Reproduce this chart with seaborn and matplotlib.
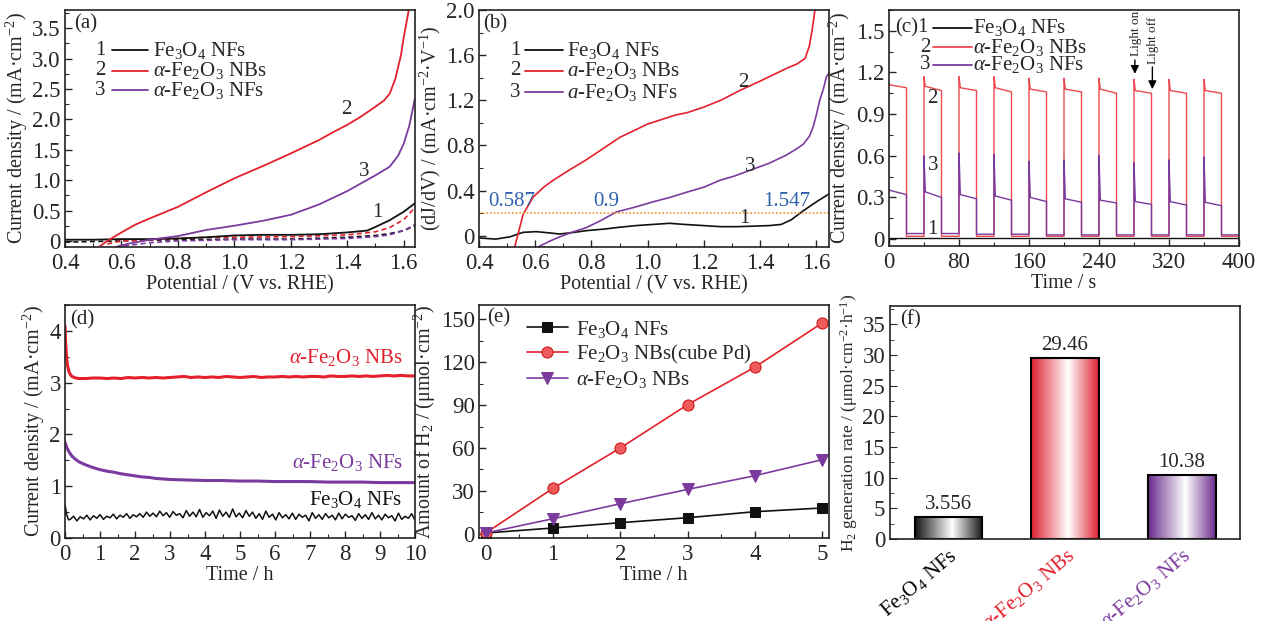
import numpy as np
import pandas as pd
import matplotlib
matplotlib.use("Agg")
import matplotlib.pyplot as plt
import seaborn as sns
from matplotlib.ticker import MultipleLocator, FuncFormatter
from matplotlib.colors import LinearSegmentedColormap
from matplotlib.lines import Line2D

# ---------------- DATA ----------------
# (a) LSV curves (light: solid, dark: dashed)
a_fe3o4_x = [0.40, 0.50, 0.60, 0.70, 0.80, 0.90, 1.00, 1.10, 1.20, 1.30, 1.40, 1.47, 1.50, 1.55, 1.60, 1.64]
a_fe3o4_y = [0.02, 0.02, 0.03, 0.03, 0.04, 0.06, 0.09, 0.10, 0.10, 0.11, 0.14, 0.17, 0.23, 0.34, 0.48, 0.62]
a_nbs_x = [0.52, 0.55, 0.60, 0.65, 0.70, 0.80, 0.90, 1.00, 1.10, 1.20, 1.30, 1.35, 1.40, 1.45, 1.50, 1.53, 1.55, 1.57, 1.59, 1.60, 1.61, 1.62]
a_nbs_y = [-0.10, 0.00, 0.14, 0.27, 0.37, 0.56, 0.80, 1.03, 1.23, 1.44, 1.66, 1.79, 1.91, 2.05, 2.21, 2.31, 2.42, 2.66, 3.05, 3.35, 3.60, 3.85]
a_nfs_x = [0.58, 0.62, 0.70, 0.80, 0.90, 1.00, 1.10, 1.20, 1.30, 1.40, 1.45, 1.50, 1.55, 1.58, 1.60, 1.62, 1.64]
a_nfs_y = [-0.10, -0.05, 0.02, 0.08, 0.18, 0.25, 0.33, 0.43, 0.60, 0.82, 0.95, 1.08, 1.22, 1.40, 1.60, 1.90, 2.35]
a_fe3o4_dark_x = [0.40, 0.60, 0.80, 1.00, 1.20, 1.40, 1.50, 1.55, 1.60, 1.64]
a_fe3o4_dark_y = [-0.02, 0.00, 0.02, 0.03, 0.03, 0.06, 0.09, 0.12, 0.17, 0.25]
a_nbs_dark_x = [0.55, 0.60, 0.70, 0.80, 0.90, 1.00, 1.20, 1.40, 1.50, 1.55, 1.60, 1.64]
a_nbs_dark_y = [-0.05, 0.00, 0.02, 0.04, 0.06, 0.06, 0.07, 0.10, 0.15, 0.22, 0.35, 0.55]
a_nfs_dark_x = [0.58, 0.70, 0.80, 1.00, 1.20, 1.40, 1.50, 1.55, 1.60, 1.64]
a_nfs_dark_y = [-0.10, -0.03, 0.00, 0.02, 0.02, 0.04, 0.07, 0.10, 0.17, 0.27]

# (b) dJ/dV curves
b_nbs_x = [0.527, 0.557, 0.592, 0.63, 0.663, 0.72, 0.78, 0.84, 0.90, 0.95, 1.00, 1.05, 1.10, 1.14, 1.20, 1.26, 1.33, 1.40, 1.45, 1.50, 1.53, 1.56, 1.575, 1.585, 1.595]
b_nbs_y = [-0.10, 0.19, 0.34, 0.43, 0.49, 0.58, 0.67, 0.77, 0.87, 0.93, 0.99, 1.03, 1.07, 1.09, 1.14, 1.20, 1.29, 1.37, 1.43, 1.49, 1.52, 1.57, 1.68, 1.82, 2.00]
b_nfs_x = [0.61, 0.65, 0.687, 0.73, 0.78, 0.83, 0.888, 0.95, 1.019, 1.08, 1.138, 1.20, 1.256, 1.31, 1.375, 1.43, 1.49, 1.53, 1.553, 1.575, 1.588, 1.60, 1.612, 1.625, 1.636, 1.645]
b_nfs_y = [-0.10, -0.05, -0.01, 0.03, 0.07, 0.13, 0.21, 0.25, 0.30, 0.34, 0.385, 0.43, 0.49, 0.53, 0.59, 0.64, 0.71, 0.77, 0.81, 0.88, 0.96, 1.07, 1.20, 1.30, 1.41, 1.44]
b_fe3o4_x = [0.40, 0.46, 0.51, 0.557, 0.604, 0.65, 0.687, 0.74, 0.782, 0.85, 0.90, 0.96, 1.019, 1.078, 1.13, 1.197, 1.26, 1.315, 1.38, 1.434, 1.475, 1.51, 1.553, 1.60, 1.645]
b_fe3o4_y = [-0.02, -0.03, -0.01, 0.03, 0.036, 0.025, 0.015, 0.03, 0.045, 0.06, 0.075, 0.09, 0.10, 0.11, 0.10, 0.09, 0.08, 0.08, 0.085, 0.09, 0.10, 0.14, 0.22, 0.30, 0.37]
b_threshold = 0.2
b_onsets = [0.587, 0.9, 1.547]

# (c) chopped-light transient photocurrent (light on 20 s / off 20 s)
c_on_times = [0, 40, 80, 120, 160, 200, 240, 280, 320, 360]
c_period_on = 20
c_end_time = 400
c_nbs_spike = [1.12, 1.17, 1.17, 1.17, 1.16, 1.16, 1.16, 1.15, 1.15, 1.15]
c_nbs_knee = [1.11, 1.10, 1.09, 1.09, 1.08, 1.08, 1.08, 1.07, 1.07, 1.07]
c_nbs_end = [1.09, 1.07, 1.07, 1.06, 1.06, 1.06, 1.05, 1.05, 1.05, 1.05]
c_nbs_dark = [0.02, 0.02, 0.02, 0.02, 0.02, 0.02, 0.02, 0.02, 0.02, 0.02]
c_nfs_spike = [0.36, 0.60, 0.62, 0.61, 0.56, 0.57, 0.60, 0.55, 0.57, 0.59]
c_nfs_knee = [0.35, 0.34, 0.32, 0.31, 0.30, 0.29, 0.28, 0.27, 0.27, 0.265]
c_nfs_end = [0.32, 0.30, 0.29, 0.28, 0.27, 0.265, 0.26, 0.25, 0.245, 0.24]
c_nfs_dark = [0.04, 0.04, 0.035, 0.035, 0.03, 0.03, 0.03, 0.03, 0.03, 0.03]
c_fe3o4_t = [0, 400]
c_fe3o4_j = [0.005, 0.005]

# (d) stability test
d_nbs_t = [0, 0.02, 0.05, 0.08, 0.12, 0.16, 0.2, 0.3, 0.4, 0.6, 0.8, 1.0, 1.2, 1.4, 1.6, 1.8, 2.0, 2.2, 2.4, 2.6, 2.8, 3.0, 3.2, 3.4, 3.6, 3.8, 4.0, 4.2, 4.4, 4.6, 4.8, 5.0, 5.2, 5.4, 5.6, 5.8, 6.0, 6.2, 6.4, 6.6, 6.8, 7.0, 7.2, 7.4, 7.6, 7.8, 8.0, 8.2, 8.4, 8.6, 8.8, 9.0, 9.2, 9.4, 9.6, 9.8, 10.0]
d_nbs_j = [4.10, 3.75, 3.45, 3.30, 3.20, 3.15, 3.12, 3.09, 3.08, 3.08, 3.09, 3.09, 3.08, 3.09, 3.08, 3.10, 3.09, 3.10, 3.09, 3.10, 3.09, 3.10, 3.11, 3.12, 3.10, 3.11, 3.10, 3.11, 3.10, 3.12, 3.11, 3.10, 3.11, 3.12, 3.10, 3.11, 3.11, 3.12, 3.11, 3.12, 3.11, 3.12, 3.12, 3.11, 3.13, 3.12, 3.12, 3.13, 3.12, 3.13, 3.12, 3.13, 3.14, 3.13, 3.14, 3.13, 3.13]
d_nfs_t = [0, 0.05, 0.1, 0.2, 0.3, 0.4, 0.6, 0.8, 1.0, 1.2, 1.4, 1.6, 1.8, 2.0, 2.2, 2.4, 2.6, 2.8, 3.0, 3.5, 4.0, 4.5, 5.0, 5.5, 6.0, 6.5, 7.0, 7.5, 8.0, 8.5, 9.0, 9.5, 10.0]
d_nfs_j = [1.85, 1.75, 1.68, 1.58, 1.52, 1.47, 1.41, 1.36, 1.32, 1.29, 1.27, 1.24, 1.22, 1.20, 1.18, 1.17, 1.15, 1.14, 1.13, 1.12, 1.11, 1.11, 1.10, 1.10, 1.09, 1.09, 1.09, 1.08, 1.08, 1.08, 1.07, 1.07, 1.07]
d_fe3o4_head_t = [0, 0.05, 0.1]
d_fe3o4_head_j = [0.65, 0.45, 0.35]
d_fe3o4_noise_j = [0.36, 0.42, 0.33, 0.41, 0.37, 0.44, 0.35, 0.43, 0.38, 0.45, 0.36, 0.42, 0.39, 0.46, 0.37, 0.44, 0.40, 0.47, 0.38, 0.45, 0.41,
                   0.47, 0.40, 0.50, 0.42, 0.48, 0.41, 0.52, 0.43, 0.49, 0.40, 0.51, 0.44, 0.47, 0.39, 0.53, 0.42, 0.50, 0.41, 0.55, 0.40, 0.49, 0.43, 0.52, 0.38, 0.54, 0.42, 0.50, 0.40, 0.56, 0.41, 0.48, 0.39, 0.53, 0.42,
                   0.50, 0.38, 0.47, 0.36, 0.52, 0.40, 0.46, 0.35, 0.49, 0.39, 0.45, 0.37, 0.48, 0.36, 0.46, 0.40, 0.44, 0.33, 0.49, 0.38, 0.45, 0.36, 0.47, 0.39, 0.44, 0.35, 0.48, 0.37, 0.46, 0.40, 0.43, 0.34, 0.47, 0.38, 0.45, 0.36, 0.49, 0.37, 0.44, 0.35, 0.46, 0.39, 0.43, 0.33, 0.48, 0.36, 0.42, 0.38, 0.47, 0.34]
d_fe3o4_noise_start = 0.15
d_fe3o4_noise_stop = 10.0

# (e) H2 evolution
e_time = [0, 1, 2, 3, 4, 5]
e_fe3o4 = [0.5, 4.0, 7.7, 11.2, 15.4, 18.0]
e_nbs_pd = [0.5, 31.8, 60.0, 90.3, 116.6, 147.4]
e_nbs = [0.5, 10.5, 21.0, 31.0, 40.6, 51.8]

# (f) H2 generation rate
f_labels = [r"Fe$_3$O$_4$ NFs", r"$\alpha$-Fe$_2$O$_3$ NBs", r"$\alpha$-Fe$_2$O$_3$ NFs"]
f_rates = [3.556, 29.46, 10.38]
f_rate_text = ["3.556", "29.46", "10.38"]

# ---------------- STYLE ----------------
sns.set_style("ticks")
plt.rcParams['font.family'] = ['Liberation Serif', 'DejaVu Serif']
plt.rcParams['mathtext.fontset'] = 'custom'
plt.rcParams['mathtext.rm'] = 'Liberation Serif'
plt.rcParams['mathtext.it'] = 'Liberation Serif:italic'
plt.rcParams['mathtext.bf'] = 'Liberation Serif:bold'
plt.rcParams['xtick.direction'] = 'in'
plt.rcParams['ytick.direction'] = 'in'
plt.rcParams['axes.linewidth'] = 1.2
plt.rcParams['axes.edgecolor'] = '#222222'

TICK_FS = 16.5
LAB_FS = 14.5
LEG_FS = 14

BLACK = '#111111'
RED = '#e3202b'
PURPLE = '#7b3b9e'
RED_C = '#ec4a50'
PURPLE_C = '#7a3aa0'
BLUE = '#2f62ad'

W, H = 1263, 621
fig = plt.figure(figsize=(W / 100, H / 100), dpi=100)


def add_ax(left, right, top, bottom):
    return fig.add_axes([left / W, 1 - bottom / H, (right - left) / W, (bottom - top) / H])


def fmt_dec(v, p):
    if abs(v) < 1e-9:
        return "0"
    return f"{v:.1f}"


def fmt_int(v, p):
    if abs(v) < 1e-9:
        return "0"
    return f"{v:.0f}"


def style(ax, xmaj, xmin, ymaj, ymin, xfmt, yfmt):
    ax.xaxis.set_major_locator(MultipleLocator(xmaj))
    ax.xaxis.set_minor_locator(MultipleLocator(xmin))
    ax.yaxis.set_major_locator(MultipleLocator(ymaj))
    ax.yaxis.set_minor_locator(MultipleLocator(ymin))
    ax.xaxis.set_major_formatter(FuncFormatter(xfmt))
    ax.yaxis.set_major_formatter(FuncFormatter(yfmt))
    ax.tick_params(which='major', length=5, width=1.0, labelsize=TICK_FS, pad=3)
    ax.tick_params(axis='x', which='major', pad=4)
    ax.tick_params(which='minor', length=3, width=0.8)
    for s in ax.spines.values():
        s.set_visible(True)


def manual_legend(ax, rows, num_x, line_x0, line_x1, text_x, ys):
    for (num, color, label), y, nx in zip(rows, ys, num_x):
        ax.text(nx, y, num, transform=ax.transAxes, fontsize=LEG_FS + 1, ha='center', va='center')
        ax.add_line(Line2D([line_x0, line_x1], [y, y], transform=ax.transAxes, color=color, lw=1.3))
        ax.text(text_x, y, label, transform=ax.transAxes, fontsize=LEG_FS + 1, ha='left', va='center')


lab_fe3o4 = r"Fe$_3$O$_4$ NFs"
lab_nbs = r"$\alpha$-Fe$_2$O$_3$ NBs"
lab_nfs = r"$\alpha$-Fe$_2$O$_3$ NFs"

# ---------------- (a) ----------------
ax = add_ax(65, 415, 10, 247)
sns.lineplot(x=a_fe3o4_dark_x, y=a_fe3o4_dark_y, ax=ax, color=BLACK, lw=1.2, linestyle=(0, (3, 2)), estimator=None, sort=False)
sns.lineplot(x=a_nbs_dark_x, y=a_nbs_dark_y, ax=ax, color=RED, lw=1.2, linestyle=(0, (3, 2)), estimator=None, sort=False)
sns.lineplot(x=a_nfs_dark_x, y=a_nfs_dark_y, ax=ax, color=PURPLE, lw=1.2, linestyle=(0, (3, 2)), estimator=None, sort=False)
sns.lineplot(x=a_fe3o4_x, y=a_fe3o4_y, ax=ax, color=BLACK, lw=1.3, estimator=None, sort=False)
sns.lineplot(x=a_nbs_x, y=a_nbs_y, ax=ax, color=RED, lw=1.3, estimator=None, sort=False)
sns.lineplot(x=a_nfs_x, y=a_nfs_y, ax=ax, color=PURPLE, lw=1.3, estimator=None, sort=False)
ax.set_xlim(0.4, 1.64)
ax.set_ylim(-0.1, 3.8)
style(ax, 0.2, 0.1, 0.5, 0.25, fmt_dec, fmt_dec)
ax.set_xlabel("Potential / (V vs. RHE)", fontsize=LAB_FS, labelpad=1)
ax.set_ylabel(r"Current density / (mA·cm$^{-2}$)", fontsize=LAB_FS, labelpad=2)
ax.text(0.025, 0.94, "(a)", transform=ax.transAxes, fontsize=LEG_FS + 1, ha='left', va='center')
manual_legend(ax, [("1", BLACK, lab_fe3o4), ("2", RED, lab_nbs), ("3", PURPLE, lab_nfs)],
              [0.10, 0.10, 0.10], 0.134, 0.237, 0.251, [0.831, 0.743, 0.662])
ax.text(1.396, 2.17, "2", fontsize=LEG_FS + 1, ha='center', va='center')
ax.text(1.461, 1.15, "3", fontsize=LEG_FS + 1, ha='center', va='center')
ax.text(1.508, 0.46, "1", fontsize=LEG_FS + 1, ha='center', va='center')

# ---------------- (b) ----------------
ax = add_ax(479, 829, 10, 247)
sns.lineplot(x=b_fe3o4_x, y=b_fe3o4_y, ax=ax, color=BLACK, lw=1.2, estimator=None, sort=False)
sns.lineplot(x=b_nbs_x, y=b_nbs_y, ax=ax, color=RED, lw=1.2, estimator=None, sort=False)
sns.lineplot(x=b_nfs_x, y=b_nfs_y, ax=ax, color=PURPLE, lw=1.2, estimator=None, sort=False)
ax.axhline(b_threshold, color='#f0952e', lw=1.2, linestyle=(0, (1, 1.2)))
ax.set_xlim(0.4, 1.645)
ax.set_ylim(-0.1, 2.0)
style(ax, 0.2, 0.1, 0.4, 0.2, fmt_dec, fmt_dec)
ax.set_xlabel("Potential / (V vs. RHE)", fontsize=LAB_FS, labelpad=1)
ax.set_ylabel(r"(dJ/dV) / (mA·cm$^{-2}$·V$^{-1}$)", fontsize=LAB_FS, labelpad=2)
ax.text(0.012, 0.94, "(b)", transform=ax.transAxes, fontsize=LEG_FS + 1, ha='left', va='center')
manual_legend(ax, [("1", BLACK, r"Fe$_3$O$_4$ NFs"), ("2", RED, r"$a$-Fe$_2$O$_3$ NBs"), ("3", PURPLE, r"$a$-Fe$_2$O$_3$ NFs")],
              [0.103, 0.103, 0.103], 0.131, 0.24, 0.251, [0.831, 0.743, 0.654])
for xv, xpos in zip(b_onsets, [0.515, 0.853, 1.493]):
    ax.text(xpos, 0.30, f"{xv:g}", color=BLUE, fontsize=LEG_FS + 1, ha='center', va='center')
ax.text(1.339, 1.36, "2", fontsize=LEG_FS + 1, ha='center', va='center')
ax.text(1.363, 0.61, "3", fontsize=LEG_FS + 1, ha='center', va='center')
ax.text(1.345, 0.15, "1", fontsize=LEG_FS + 1, ha='center', va='center')

# ---------------- (c) ----------------
def chopped(spike, knee, end, dark):
    t, j = [], []
    for i, ton in enumerate(c_on_times):
        toff = ton + c_period_on
        if i > 0:
            t.append(ton); j.append(dark[i - 1])
        t += [ton, ton + 1.5, toff, toff]
        j += [spike[i], knee[i], end[i], dark[i]]
        tnext = c_on_times[i + 1] if i + 1 < len(c_on_times) else c_end_time
        t.append(tnext); j.append(dark[i])
    return t, j


ax = add_ax(889, 1239, 10, 246)
ct, cj = chopped(c_nbs_spike, c_nbs_knee, c_nbs_end, c_nbs_dark)
sns.lineplot(x=ct, y=cj, ax=ax, color=RED_C, lw=1.0, estimator=None, sort=False)
ct, cj = chopped(c_nfs_spike, c_nfs_knee, c_nfs_end, c_nfs_dark)
sns.lineplot(x=ct, y=cj, ax=ax, color=PURPLE_C, lw=1.0, estimator=None, sort=False)
sns.lineplot(x=c_fe3o4_t, y=c_fe3o4_j, ax=ax, color=BLACK, lw=1.0, estimator=None, sort=False)
ax.set_xlim(0, 400)
ax.set_ylim(-0.05, 1.65)
style(ax, 80, 40, 0.3, 0.15, fmt_int, fmt_dec)
ax.set_xlabel("Time / s", fontsize=LAB_FS, labelpad=1)
ax.set_ylabel(r"Current density / (mA·cm$^{-2}$)", fontsize=LAB_FS, labelpad=2)
ax.text(0.017, 0.924, "(c)", transform=ax.transAxes, fontsize=LEG_FS + 1, ha='left', va='center')
manual_legend(ax, [("1", BLACK, lab_fe3o4), ("2", RED_C, lab_nbs), ("3", PURPLE_C, lab_nfs)],
              [0.095, 0.103, 0.103], 0.126, 0.237, 0.24, [0.924, 0.843, 0.767])
ax.text(50, 1.01, "2", fontsize=LEG_FS + 1, ha='center', va='center')
ax.text(50, 0.53, "3", fontsize=LEG_FS + 1, ha='center', va='center')
ax.text(50, 0.07, "1", fontsize=LEG_FS + 1, ha='center', va='center')
ax.annotate("", xy=(281, 1.17), xytext=(281, 1.31),
            arrowprops=dict(arrowstyle='-|>', color='black', lw=1.0, mutation_scale=12))
ax.text(282, 1.645, "Light on", rotation=90, fontsize=9.5, ha='center', va='top')
ax.annotate("", xy=(301, 1.06), xytext=(301, 1.26),
            arrowprops=dict(arrowstyle='-|>', color='black', lw=1.0, mutation_scale=12))
ax.text(302, 1.60, "Light off", rotation=90, fontsize=9.5, ha='center', va='top')

# ---------------- (d) ----------------
ax = add_ax(65, 415, 305, 538)
d_noise_t = np.linspace(d_fe3o4_noise_start, d_fe3o4_noise_stop, len(d_fe3o4_noise_j))
d_fe3o4_t = list(d_fe3o4_head_t) + list(d_noise_t)
d_fe3o4_j = list(d_fe3o4_head_j) + list(d_fe3o4_noise_j)
sns.lineplot(x=d_nbs_t, y=d_nbs_j, ax=ax, color=RED, lw=2.2, estimator=None, sort=False)
sns.lineplot(x=d_nfs_t, y=d_nfs_j, ax=ax, color=PURPLE, lw=2.2, estimator=None, sort=False)
sns.lineplot(x=d_fe3o4_t, y=d_fe3o4_j, ax=ax, color=BLACK, lw=1.1, estimator=None, sort=False)
ax.set_xlim(0, 10)
ax.set_ylim(0, 4.5)
style(ax, 1, 0.5, 1, 0.5, fmt_int, fmt_int)
ax.set_xlabel("Time / h", fontsize=LAB_FS, labelpad=1)
ax.set_ylabel(r"Current density / (mA·cm$^{-2}$)", fontsize=LAB_FS, labelpad=2)
ax.text(0.014, 0.936, "(d)", transform=ax.transAxes, fontsize=LEG_FS + 1, ha='left', va='center')
ax.text(9.65, 3.48, lab_nbs, color=RED, fontsize=LEG_FS + 1, ha='right', va='center')
ax.text(9.65, 1.45, lab_nfs, color=PURPLE, fontsize=LEG_FS + 1, ha='right', va='center')
ax.text(9.63, 0.75, lab_fe3o4, color=BLACK, fontsize=LEG_FS + 1, ha='right', va='center')

# ---------------- (e) ----------------
ax = add_ax(479, 829, 305, 538)
sns.lineplot(x=e_time, y=e_fe3o4, ax=ax, color=BLACK, lw=1.2, marker='s', markersize=7,
             markeredgecolor=BLACK, label=lab_fe3o4, estimator=None)
sns.lineplot(x=e_time, y=e_nbs_pd, ax=ax, color=RED, lw=1.2, marker='o', markersize=8,
             markerfacecolor='#f05a5a', markeredgecolor='#c81818', label=r"Fe$_2$O$_3$ NBs(cube Pd)", estimator=None)
sns.lineplot(x=e_time, y=e_nbs, ax=ax, color=PURPLE, lw=1.2, marker='v', markersize=8,
             markeredgecolor=PURPLE, label=lab_nbs, estimator=None)
ax.set_xlim(-0.1, 5.1)
ax.set_ylim(-3, 160)
style(ax, 1, 0.5, 30, 15, fmt_int, fmt_int)
ax.set_xlabel("Time / h", fontsize=LAB_FS, labelpad=1)
ax.set_ylabel(r"Amount of H$_2$ / (μmol·cm$^{-2}$)", fontsize=LAB_FS, labelpad=2)
ax.text(0.023, 0.944, "(e)", transform=ax.transAxes, fontsize=LEG_FS + 1, ha='left', va='center')
ax.legend(loc='upper left', bbox_to_anchor=(0.1, 0.995), frameon=False, fontsize=LEG_FS + 1,
          handlelength=2.0, handletextpad=0.4, labelspacing=0.15, borderaxespad=0.2)

# ---------------- (f) ----------------
ax = add_ax(890, 1240, 306, 539)
bar_cols = ['#151515', '#df2030', '#6a2a8c']
df_f = pd.DataFrame({"cat": f_labels, "rate": f_rates})
sns.barplot(data=df_f, x="cat", y="rate", hue="cat", palette=bar_cols, legend=False, ax=ax, width=0.58,
            edgecolor='black', linewidth=1.5)
for patch, col in zip(ax.patches, bar_cols):
    x0, y0 = patch.get_x(), patch.get_y()
    w, h = patch.get_width(), patch.get_height()
    cmap = LinearSegmentedColormap.from_list("g", [(0, col), (0.55, 'white'), (1, col)])
    grad = np.linspace(0, 1, 256).reshape(1, -1)
    im = ax.imshow(grad, extent=[x0, x0 + w, y0, y0 + h], aspect='auto', cmap=cmap, zorder=patch.get_zorder() - 0.1,
                   interpolation='bilinear')
    im.set_clip_path(patch)
    patch.set_facecolor('none')
for i, (v, t) in enumerate(zip(f_rates, f_rate_text)):
    ax.text(i, v + 0.5, t, fontsize=LEG_FS + 1, ha='center', va='bottom')
ax.set_xlim(-0.5, 2.5)
ax.set_ylim(0, 38)
ax.yaxis.set_major_locator(MultipleLocator(5))
ax.yaxis.set_minor_locator(MultipleLocator(2.5))
ax.yaxis.set_major_formatter(FuncFormatter(fmt_int))
ax.tick_params(axis='y', which='major', length=5, labelsize=TICK_FS)
ax.tick_params(axis='y', which='minor', length=3)
ax.tick_params(axis='x', length=0, pad=4)
ax.set_xlabel("")
ax.set_ylabel(r"H$_2$ generation rate / (μmol·cm$^{-2}$·h$^{-1}$)", fontsize=12.5, labelpad=2)
ax.set_xticks([0, 1, 2])
ax.set_xticklabels(f_labels, rotation=40, ha='right', rotation_mode='anchor', fontsize=LEG_FS + 1)
for lbl, c in zip(ax.get_xticklabels(), ['black', '#e3202b', '#7b3b9e']):
    lbl.set_color(c)
for s in ax.spines.values():
    s.set_visible(True)
ax.text(0.029, 0.94, "(f)", transform=ax.transAxes, fontsize=LEG_FS + 1, ha='left', va='center')

fig.savefig("out.png", dpi=100)
